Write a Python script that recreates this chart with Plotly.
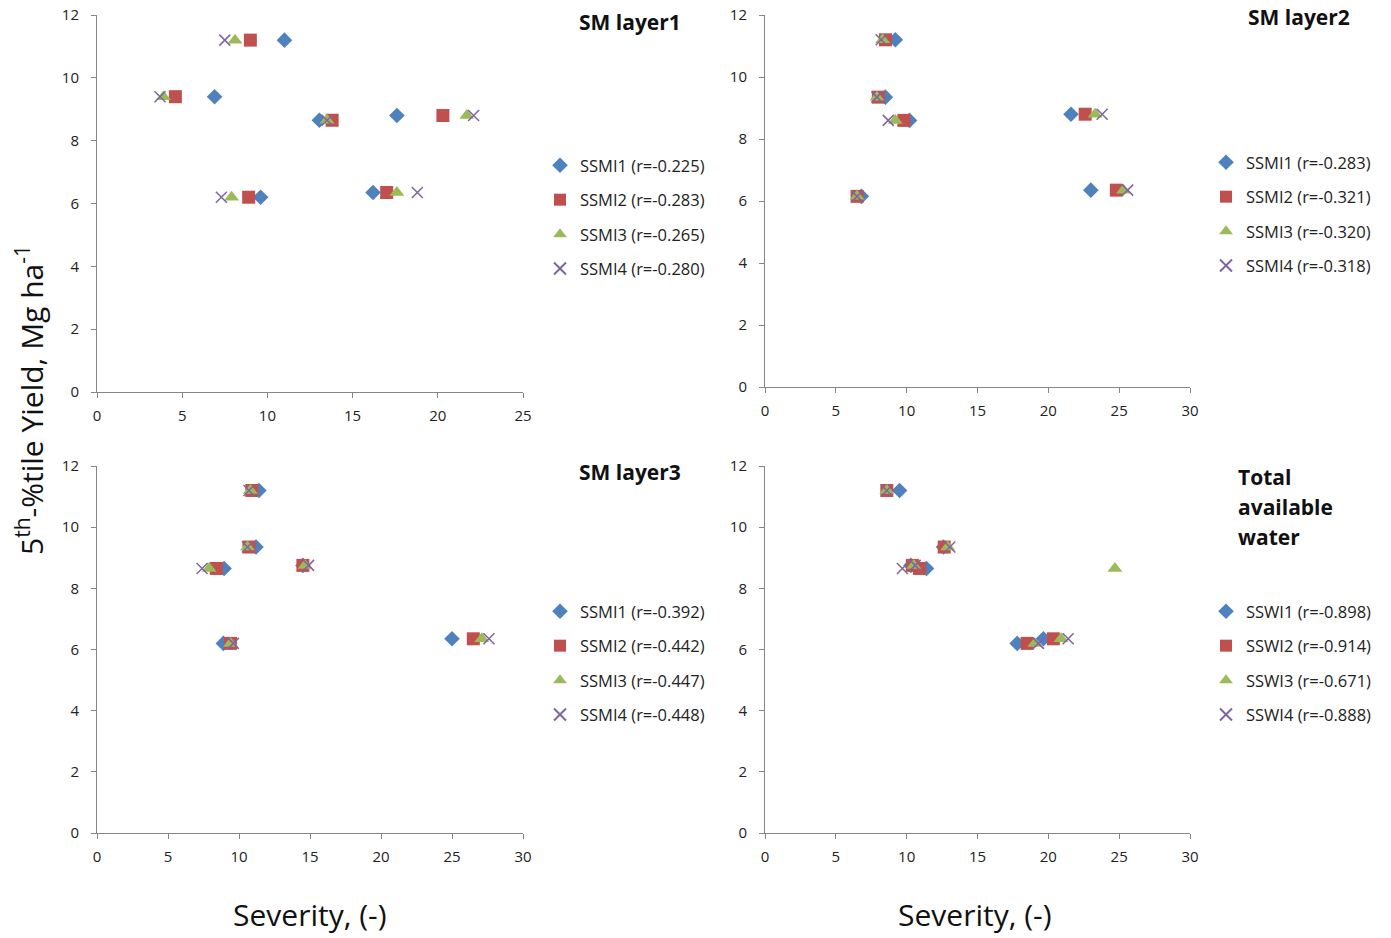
import plotly.graph_objects as go

W, H = 1391, 938

# ---------------- data ----------------
yield_p1 = [11.2, 9.4, 8.65, 8.8, 6.35, 6.2]
p1_ssmi1 = [11.0, 6.9, 13.05, 17.6, 16.2, 9.6]
p1_ssmi2 = [9.0, 4.6, 13.8, 20.3, 17.0, 8.9]
p1_ssmi3 = [8.1, 3.9, 13.5, 21.7, 17.6, 7.9]
p1_ssmi4 = [7.5, 3.7, 13.5, 22.1, 18.8, 7.3]

yield_p2 = [11.2, 9.35, 8.6, 8.8, 6.35, 6.15]
p2_ssmi1 = [9.2, 8.5, 10.2, 21.6, 23.0, 6.8]
p2_ssmi2 = [8.5, 8.0, 9.8, 22.6, 24.8, 6.5]
p2_ssmi3 = [8.3, 7.9, 9.2, 23.3, 25.3, 6.5]
p2_ssmi4 = [8.2, 7.9, 8.7, 23.8, 25.6, 6.5]

yield_p3 = [11.2, 9.35, 8.65, 8.75, 6.35, 6.2]
p3_ssmi1 = [11.4, 11.2, 8.95, 14.5, 25.0, 8.9]
p3_ssmi2 = [10.9, 10.7, 8.4, 14.5, 26.5, 9.4]
p3_ssmi3 = [10.8, 10.6, 7.9, 14.65, 27.1, 9.4]
p3_ssmi4 = [10.7, 10.6, 7.4, 14.9, 27.6, 9.6]

yield_p4 = [11.2, 9.35, 8.65, 8.75, 6.35, 6.2]
p4_sswi1 = [9.5, 12.6, 11.4, 10.3, 19.65, 17.8]
p4_sswi2 = [8.6, 12.65, 10.9, 10.4, 20.35, 18.5]
p4_sswi3 = [8.6, 12.9, 24.7, 10.5, 20.9, 19.05]
p4_sswi4 = [8.6, 13.05, 9.7, 10.6, 21.4, 19.3]

names_p1 = ["SSMI1 (r=-0.225)", "SSMI2 (r=-0.283)", "SSMI3 (r=-0.265)", "SSMI4 (r=-0.280)"]
names_p2 = ["SSMI1 (r=-0.283)", "SSMI2 (r=-0.321)", "SSMI3 (r=-0.320)", "SSMI4 (r=-0.318)"]
names_p3 = ["SSMI1 (r=-0.392)", "SSMI2 (r=-0.442)", "SSMI3 (r=-0.447)", "SSMI4 (r=-0.448)"]
names_p4 = ["SSWI1 (r=-0.898)", "SSWI2 (r=-0.914)", "SSWI3 (r=-0.671)", "SSWI4 (r=-0.888)"]

panel_titles = ["SM layer1", "SM layer2", "SM layer3"]
panel4_title_lines = ["Total", "available", "water"]
x_title = "Severity, (-)"
y_title = "5<sup>th</sup>-%tile Yield, Mg ha<sup>-1</sup>"

# ---------------- styling ----------------
FONT = "Open Sans"
marker_styles = [
    dict(symbol="diamond", size=12, color="#4F81BD"),
    dict(symbol="square", size=13, color="#C0504D"),
    dict(symbol="triangle-up", size=13, color="#9BBB59"),
    dict(symbol="x-thin", size=11, color="#8064A2", line=dict(width=1.5, color="#8064A2")),
]

def px_x(p):
    return p / W

def px_y(p):
    return 1 - p / H

panels = [
    dict(ys=yield_p1, xs=[p1_ssmi1, p1_ssmi2, p1_ssmi3, p1_ssmi4], names=names_p1,
         xr=[0, 25], xd=[px_x(97), px_x(523)], yd=[px_y(392), px_y(15)]),
    dict(ys=yield_p2, xs=[p2_ssmi1, p2_ssmi2, p2_ssmi3, p2_ssmi4], names=names_p2,
         xr=[0, 30], xd=[px_x(765), px_x(1190)], yd=[px_y(387), px_y(15)]),
    dict(ys=yield_p3, xs=[p3_ssmi1, p3_ssmi2, p3_ssmi3, p3_ssmi4], names=names_p3,
         xr=[0, 30], xd=[px_x(97), px_x(523)], yd=[px_y(833), px_y(466)]),
    dict(ys=yield_p4, xs=[p4_sswi1, p4_sswi2, p4_sswi3, p4_sswi4], names=names_p4,
         xr=[0, 30], xd=[px_x(765), px_x(1190)], yd=[px_y(833), px_y(466)]),
]

legend_pos = [(540, 148), (1206, 145), (540, 594), (1206, 594)]

fig = go.Figure()
layout = {}
for i, p in enumerate(panels):
    k = "" if i == 0 else str(i + 1)
    leg = "legend" if i == 0 else f"legend{i + 1}"
    for j in range(4):
        fig.add_trace(go.Scatter(
            x=p["xs"][j], y=p["ys"], mode="markers", name=p["names"][j],
            marker=marker_styles[j], xaxis=f"x{k}", yaxis=f"y{k}",
            legend=leg, legendgroup=f"g{i}_{j}",
        ))
    axis_common = dict(showline=True, linecolor="#868686", linewidth=1,
                       ticks="outside", tickcolor="#868686", ticklen=5,
                       showgrid=False, zeroline=False, automargin=False,
                       tickfont=dict(family=FONT, size=15, color="#222"))
    layout[f"xaxis{k}"] = dict(domain=p["xd"], range=p["xr"], dtick=5,
                               anchor=f"y{k}", ticklabelstandoff=5, **axis_common)
    layout[f"yaxis{k}"] = dict(domain=p["yd"], range=[0, 12], dtick=2,
                               anchor=f"x{k}", ticklabelstandoff=9, **axis_common)
    lx, ly = legend_pos[i]
    layout[leg] = dict(x=px_x(lx), y=px_y(ly), xanchor="left", yanchor="top",
                       bgcolor="rgba(0,0,0,0)", traceorder="grouped",
                       tracegroupgap=10, itemsizing="constant",
                       font=dict(family=FONT, size=16.5, color="#222"))

annotations = [
    dict(text=f"<b>{panel_titles[0]}</b>", x=px_x(683), y=px_y(22), xanchor="right"),
    dict(text=f"<b>{panel_titles[1]}</b>", x=px_x(1352), y=px_y(17), xanchor="right"),
    dict(text=f"<b>{panel_titles[2]}</b>", x=px_x(683), y=px_y(472), xanchor="right"),
]
for n, line in enumerate(panel4_title_lines):
    annotations.append(dict(text=f"<b>{line}</b>", x=px_x(1236), y=px_y(477 + 30 * n),
                            xanchor="left"))
for a in annotations:
    a.update(xref="paper", yref="paper", showarrow=False, yanchor="middle",
             font=dict(family=FONT, size=21, color="#111"))

annotations += [
    dict(text=x_title, x=px_x(310), y=px_y(914), xref="paper", yref="paper",
         xanchor="center", yanchor="middle",
         showarrow=False, font=dict(family=FONT, size=30, color="#111")),
    dict(text=x_title, x=px_x(975), y=px_y(914), xref="paper", yref="paper",
         xanchor="center", yanchor="middle",
         showarrow=False, font=dict(family=FONT, size=30, color="#111")),
    dict(text=y_title, x=px_x(30), y=px_y(400), xref="paper", yref="paper",
         xanchor="center", yanchor="middle",
         textangle=-90, showarrow=False, font=dict(family=FONT, size=30, color="#111")),
]

fig.update_layout(width=W, height=H, margin=dict(l=0, r=0, t=0, b=0, autoexpand=False),
                  paper_bgcolor="white", plot_bgcolor="white",
                  showlegend=True, annotations=annotations, **layout)

fig.write_html("out.html", config={"displayModeBar": False},
               post_script="document.body.style.margin='0';")
